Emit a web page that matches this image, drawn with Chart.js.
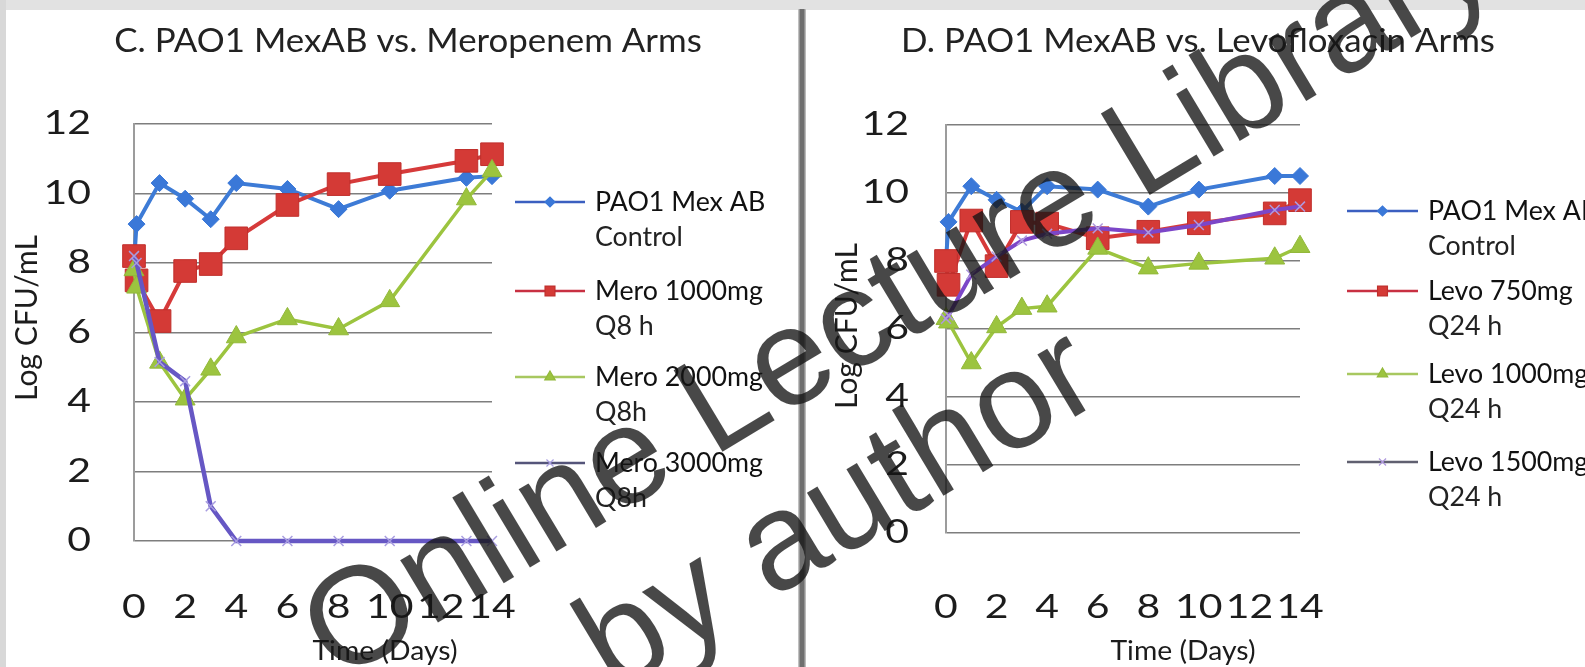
<!DOCTYPE html>
<html><head><meta charset="utf-8">
<script src="https://cdn.jsdelivr.net/npm/chart.js@4.4.1/dist/chart.umd.min.js"></script>
<style>
html,body{margin:0;padding:0;background:#fff;width:1585px;height:667px;overflow:hidden;}
body{position:relative;}
#topband{position:absolute;left:0;top:0;width:1585px;height:10px;background:#e2e2e2;}
#leftband{position:absolute;left:0;top:0;width:6px;height:667px;background:#d8d8d8;}
#divider{position:absolute;left:798px;top:9px;width:8px;height:658px;background:linear-gradient(to right,#d6d6d6,#6f6f6f 30%,#6f6f6f 70%,#cfcfcf);}
#w1{position:absolute;left:0;top:0;width:795px;height:667px;}
#w2{position:absolute;left:805px;top:0;width:780px;height:667px;}
.wm{position:absolute;font-family:'Liberation Sans',Arial,sans-serif;font-size:138px;line-height:1;white-space:nowrap;color:rgba(20,20,20,0.78);transform:translate(-50%,-50%) rotate(-31deg);}
</style></head>
<body>
<div id="topband"></div><div id="leftband"></div><div id="divider"></div>
<div id="w1"><canvas id="c1" width="795" height="667"></canvas></div>
<div id="w2"><canvas id="c2" width="780" height="667"></canvas></div>
<div class="wm" style="left:895px;top:292px">Online Lecture Library</div>
<div class="wm" style="left:835px;top:505px">by author</div>
<script>
// ---- data ----
const days = [0, 0.1, 1, 2, 3, 4, 6, 8, 10, 13, 14];
const xTicks = [0, 2, 4, 6, 8, 10, 12, 14];
const yTicks = [0, 2, 4, 6, 8, 10, 12];

const meroTitle = 'C. PAO1 MexAB vs. Meropenem Arms';
const meroLabels = [['PAO1 Mex AB', 'Control'], ['Mero 1000mg', 'Q8 h'], ['Mero 2000mg', 'Q8h'], ['Mero 3000mg', 'Q8h']];
const meroControl = [8.0, 9.12, 10.3, 9.85, 9.26, 10.3, 10.13, 9.55, 10.08, 10.45, 10.5];
const mero1000 = [8.2, 7.5, 6.33, 7.77, 7.97, 8.71, 9.67, 10.27, 10.56, 10.94, 11.13];
const mero2000 = [7.8, 7.3, 5.14, 4.08, 4.94, 5.87, 6.39, 6.1, 6.91, 9.84, 10.65];
const mero3000 = [8.2, 8.0, 5.15, 4.6, 1.0, 0, 0, 0, 0, 0, 0];

const levoTitle = 'D. PAO1 MexAB vs. Levofloxacin Arms';
const levoLabels = [['PAO1 Mex AB', 'Control'], ['Levo 750mg', 'Q24 h'], ['Levo 1000mg', 'Q24 h'], ['Levo 1500mg', 'Q24 h']];
const levoControl = [8.0, 9.15, 10.2, 9.8, 9.45, 10.2, 10.1, 9.6, 10.1, 10.5, 10.5];
const levo750 = [8.0, 7.3, 9.19, 7.85, 9.15, 9.1, 8.67, 8.86, 9.11, 9.4, 9.79];
const levo1000 = [6.3, 6.2, 5.0, 6.06, 6.6, 6.67, 8.37, 7.79, 7.93, 8.08, 8.42];
const levo1500 = [6.3, 6.4, 7.6, 8.13, 8.6, 8.8, 8.96, 8.84, 9.06, 9.5, 9.6];

// ---- styles ----
const stBlue = {line:'#3d7bd6', lw:4, fill:'#3a78d8', pb:'#3a78d8', pbw:1, shape:'rectRot', r:8.5, leg:'#3b5fc0', legR:5};
const stRed = {line:'#d63a3a', lw:4, fill:'#d43a36', pb:'#c02f2c', pbw:1, shape:'rect', r:16, leg:'#c83042', legR:7};
const stGreen = {line:'#9cc43f', lw:3.5, fill:'#9cc43f', pb:'#92b83a', pbw:1, shape:'triangle', r:11.5, leg:'#a8c860', legR:6};
const stPurpleL = {line:'#6657c4', lw:4.5, fill:'#a89de0', pb:'#a89de0', pbw:1.5, shape:'crossRot', r:7, leg:'#55557a', legR:5};
const stPurpleR = {line:'#7c46c8', lw:4, fill:'#b09ade', pb:'#b09ade', pbw:1.5, shape:'crossRot', r:7, leg:'#606070', legR:5};

function series(label, values, st, ord) {
  return {
    label: label,
    data: days.map((d, i) => ({x: d, y: values[i]})),
    borderColor: st.line, borderWidth: st.lw, backgroundColor: st.fill,
    pointStyle: st.shape, pointRadius: st.r, pointHoverRadius: st.r,
    pointBackgroundColor: st.fill, pointBorderColor: st.pb, pointBorderWidth: st.pbw,
    tension: 0, clip: false, order: ord, fill: false
  };
}

function sText(ctx, txt, x, y, font, color, align, sx, rot) {
  ctx.save();
  ctx.translate(x, y);
  if (rot) ctx.rotate(rot);
  ctx.scale(sx, 1);
  ctx.font = font; ctx.fillStyle = color; ctx.textAlign = align; ctx.textBaseline = 'middle';
  ctx.fillText(txt, 0, 0);
  ctx.restore();
}

const decor = {
  id: 'decor',
  afterDraw(chart, args, o) {
    const ctx = chart.ctx, xs = chart.scales.x, ys = chart.scales.y;
    const TXT = '#1c1c1c';
    yTicks.forEach(v => sText(ctx, String(v), o.yLabelX, ys.getPixelForValue(v), '32px Lato', TXT, 'right', 1.28));
    xTicks.forEach(v => sText(ctx, String(v), xs.getPixelForValue(v), o.xLabelY, '32px Lato', TXT, 'center', 1.28));
    sText(ctx, o.title, o.titleX, 42, '32px Lato', '#222', 'center', 1.09);
    sText(ctx, 'Time (Days)', o.xTitleX, 651, '27px Lato', TXT, 'center', 1.05);
    sText(ctx, 'Log CFU/mL', o.yTitleX, o.yTitleY, '30px Lato', TXT, 'center', 1, -Math.PI / 2);
    o.styles.forEach((st, i) => {
      const y = o.legY[i];
      ctx.save();
      ctx.strokeStyle = st.leg; ctx.lineWidth = 2.5;
      ctx.beginPath(); ctx.moveTo(o.legX0, y); ctx.lineTo(o.legX1, y); ctx.stroke();
      ctx.fillStyle = st.fill; ctx.strokeStyle = st.pb; ctx.lineWidth = 1.2;
      Chart.helpers.drawPoint(ctx, {pointStyle: st.shape, rotation: 0, radius: st.legR, borderWidth: 1.2}, (o.legX0 + o.legX1) / 2, y);
      ctx.restore();
      sText(ctx, o.labels[i][0], o.legTX, y + 1, '26px Lato', '#111', 'left', 1.03);
      sText(ctx, o.labels[i][1], o.legTX, y + 36, '26px Lato', '#222', 'left', 1.03);
    });
  }
};

function makeChart(id, title, labels, sets, styles, geo) {
  return new Chart(document.getElementById(id), {
    type: 'line',
    data: {datasets: sets.map((v, i) => series(labels[i][0], v, styles[i], 4 - i))},
    options: {
      responsive: false, animation: false, devicePixelRatio: 1,
      layout: {padding: {left: 0, top: geo.top, right: geo.padRight, bottom: 0}},
      plugins: {
        legend: {display: false}, tooltip: {enabled: false}, title: {display: false},
        decor: {
          title: title, labels: labels, styles: styles,
          titleX: geo.titleX, yLabelX: geo.yLabelX, xLabelY: 608,
          xTitleX: geo.xTitleX, yTitleX: geo.yTitleX, yTitleY: geo.yTitleY,
          legX0: geo.legX0, legX1: geo.legX1, legTX: geo.legTX, legY: geo.legY
        }
      },
      scales: {
        x: {type: 'linear', min: 0, max: 14, ticks: {display: false, stepSize: 2},
            grid: {display: false}, border: {display: false},
            afterFit: s => { s.height = geo.xH; }},
        y: {type: 'linear', min: 0, max: 12, ticks: {display: false, stepSize: 2},
            grid: {color: '#7e7e7e', lineWidth: 1.5, drawTicks: false},
            border: {display: true, color: '#9c9c9c', width: 2},
            afterFit: s => { s.width = geo.yW; }}
      }
    },
    plugins: [decor]
  });
}

makeChart('c1', meroTitle, meroLabels, [meroControl, mero1000, mero2000, mero3000],
  [stBlue, stRed, stGreen, stPurpleL],
  {top: 124, padRight: 795 - 492, xH: 667 - 541, yW: 134, titleX: 408, yLabelX: 91,
   xTitleX: 385, yTitleX: 27, yTitleY: 318, legX0: 515, legX1: 585, legTX: 595, legY: [202, 291, 377, 463]});

makeChart('c2', levoTitle, levoLabels, [levoControl, levo750, levo1000, levo1500],
  [stBlue, stRed, stGreen, stPurpleR],
  {top: 125, padRight: 780 - 495, xH: 667 - 533, yW: 141, titleX: 393, yLabelX: 104,
   xTitleX: 378, yTitleX: 42, yTitleY: 326, legX0: 542, legX1: 613, legTX: 623, legY: [211, 291, 374, 462]});
</script>
</body></html>
